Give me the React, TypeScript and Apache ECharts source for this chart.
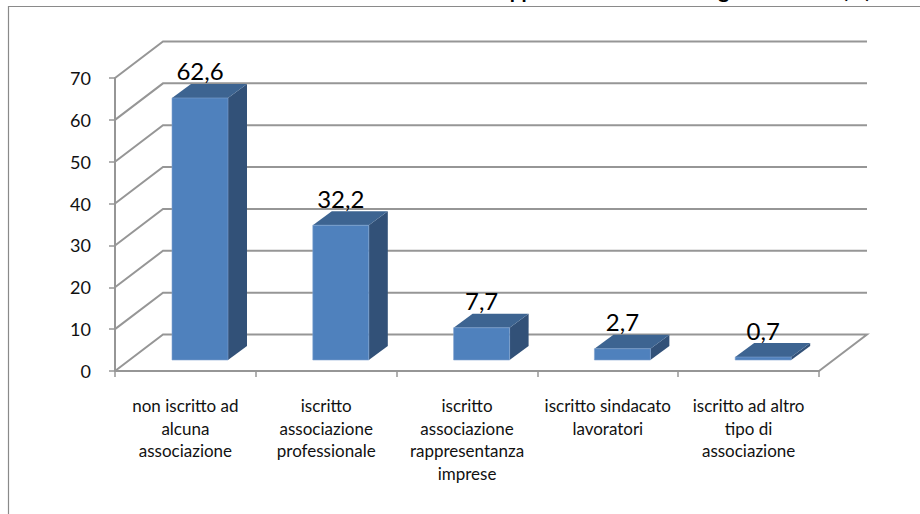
import React, { useEffect, useRef } from "react";
import * as echarts from "echarts";

const categories = [
  "non iscritto ad\nalcuna\nassociazione",
  "iscritto\nassociazione\nprofessionale",
  "iscritto\nassociazione\nrappresentanza\nimprese",
  "iscritto sindacato\nlavoratori",
  "iscritto ad altro\ntipo di\nassociazione",
];
const values = [62.6, 32.2, 7.7, 2.7, 0.7];
const yTicks = [0, 10, 20, 30, 40, 50, 60, 70];
const titleText = "appartenenza ad una organizzazione (%)";

const FONT = "Lato, 'Noto Sans', sans-serif";
const GRID_COLOR = "#969696";
const WALL_DX = 48;
const WALL_DY = -36.5;
const BAR_DX = 14.6;
const BAR_DY = -11;
const BAR_W = 56;
const DEPTH_X = 19;
const DEPTH_Y = -14;

export default function App() {
  const ref = useRef<HTMLDivElement>(null);
  useEffect(() => {
    const chart = echarts.init(ref.current!, undefined, { renderer: "svg" });
    chart.setOption({
      animation: false,
      backgroundColor: "#ffffff",
      textStyle: { fontFamily: FONT },
      grid: { left: 115, right: 101, top: 78, bottom: 143 },
      xAxis: {
        type: "category",
        data: categories,
        axisLine: { lineStyle: { color: GRID_COLOR, width: 2 } },
        axisTick: { show: true, length: 6, lineStyle: { color: GRID_COLOR, width: 1.5 } },
        axisLabel: {
          interval: 0,
          margin: 23,
          color: "#111111",
          fontFamily: FONT,
          fontSize: 17,
          lineHeight: 22.7,
          align: "center",
          verticalAlign: "top",
        },
      },
      yAxis: {
        type: "value",
        min: 0,
        max: 70,
        interval: 10,
        splitLine: { show: false },
        axisLine: { show: true, lineStyle: { color: GRID_COLOR, width: 2 } },
        axisTick: { show: true, length: 6, lineStyle: { color: GRID_COLOR, width: 1.5 } },
        axisLabel: { margin: 24, color: "#111111", fontFamily: FONT, fontSize: 18 },
      },
      graphic: [
        {
          type: "polyline",
          silent: true,
          shape: { points: [[8.5, 514], [8.5, 6.5], [920, 6.5]] },
          style: { stroke: "#8a8a8a", lineWidth: 1.2, fill: "none" },
        },
        {
          type: "text",
          silent: true,
          x: 871,
          y: 0,
          style: {
            text: titleText,
            align: "right",
            verticalAlign: "bottom",
            font: "bold 21px " + FONT,
            fill: "#000000",
          },
        },
      ],
      series: [
        {
          type: "custom",
          clip: false,
          silent: true,
          z: 1,
          data: yTicks.map((t) => [0, t]),
          encode: { x: 0, y: 1 },
          renderItem: (params: any, api: any) => {
            const cs = params.coordSys;
            const y = api.coord([0, api.value(1)])[1];
            const pts = [
              [cs.x, y],
              [cs.x + WALL_DX, y + WALL_DY],
              [cs.x + cs.width + WALL_DX, y + WALL_DY],
            ];
            if (api.value(1) === 0) pts.push([cs.x + cs.width, y]);
            return {
              type: "polyline",
              shape: { points: pts },
              style: { stroke: GRID_COLOR, lineWidth: 2, fill: "none" },
            };
          },
        },
        {
          type: "custom",
          clip: false,
          silent: true,
          z: 3,
          data: values.map((v, i) => [i, v]),
          encode: { x: 0, y: 1 },
          renderItem: (_params: any, api: any) => {
            const top = api.coord([api.value(0), api.value(1)]);
            const base = api.coord([api.value(0), 0]);
            const x0 = top[0] + BAR_DX - BAR_W / 2;
            const x1 = x0 + BAR_W;
            const yt = top[1] + BAR_DY;
            const yb = base[1] + BAR_DY;
            return {
              type: "group",
              children: [
                {
                  type: "polygon",
                  shape: { points: [[x1, yt], [x1 + DEPTH_X, yt + DEPTH_Y], [x1 + DEPTH_X, yb + DEPTH_Y], [x1, yb]] },
                  style: { fill: "#325178" },
                },
                {
                  type: "polygon",
                  shape: { points: [[x0, yt], [x0 + DEPTH_X, yt + DEPTH_Y], [x1 + DEPTH_X, yt + DEPTH_Y], [x1, yt]] },
                  style: { fill: "#3D6491" },
                },
                {
                  type: "rect",
                  shape: { x: x0, y: yt, width: BAR_W, height: Math.max(yb - yt, 1.5) },
                  style: { fill: "#4F81BD", stroke: "#7FA3D0", lineWidth: 0.6 },
                },
                {
                  type: "text",
                  x: (x0 + x1) / 2,
                  y: yt + DEPTH_Y - 13,
                  style: {
                    text: String(api.value(1)).replace(".", ","),
                    align: "center",
                    verticalAlign: "middle",
                    font: "24px " + FONT,
                    fill: "#000000",
                  },
                },
              ],
            };
          },
        },
      ],
    });
    return () => chart.dispose();
  }, []);
  return <div ref={ref} style={{ position: "absolute", left: 0, top: 0, width: 920, height: 514 }} />;
}
